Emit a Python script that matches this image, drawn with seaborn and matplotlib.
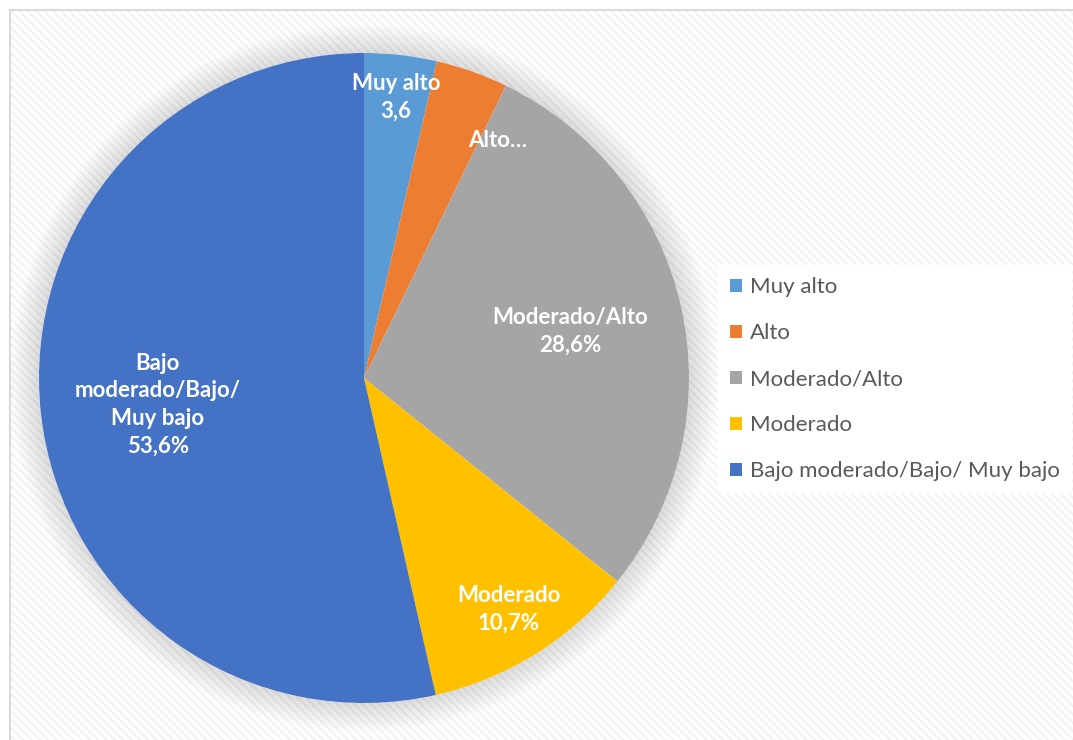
import matplotlib
matplotlib.use("Agg")
import numpy as np
import matplotlib.pyplot as plt
import seaborn as sns
from matplotlib.patches import Patch, Rectangle, Circle

# data
categories = ["Muy alto", "Alto", "Moderado/Alto", "Moderado",
              "Bajo moderado/Bajo/ Muy bajo"]
values = [3.6, 3.6, 28.6, 10.7, 53.6]
slice_labels = ["Muy alto\n3,6", "Alto…", "Moderado/Alto\n28,6%",
                "Moderado\n10,7%", "Bajo\nmoderado/Bajo/\nMuy bajo\n53,6%"]
colors = ["#5B9BD5", "#ED7D31", "#A5A5A5", "#FFC000", "#4472C4"]

# label placement (radius fraction, angle shift in degrees)
label_r = [0.87, 0.84, 0.65, 0.84, 0.64]
label_shift = [0, -10, 0, 0, 1]

sns.set_theme(style="white")
plt.rcParams["font.family"] = ["Lato", "DejaVu Sans"]
plt.rcParams["hatch.linewidth"] = 1.6

fig = plt.figure(figsize=(10.73, 7.40), dpi=100)

# hatched background + border
bg = Rectangle((10 / 1073, -0.01), 1.0, 1 - 10 / 740 + 0.01, transform=fig.transFigure,
               facecolor="white", edgecolor="#f3f3f3", hatch="\\\\\\\\",
               linewidth=0, zorder=-10)
fig.patches.append(bg)
border = Rectangle((10 / 1073, -0.01), 1.0, 1 - 10 / 740 + 0.01, transform=fig.transFigure,
                   facecolor="none", edgecolor="#d9d9d9", linewidth=1.5, zorder=-9)
fig.patches.append(border)

lim = 1.15
ax = fig.add_axes([(364 - 325 * lim) / 1073, (740 - 378 - 325 * lim) / 740,
                   650 * lim / 1073, 650 * lim / 740])

# soft glow around the pie
for i in range(12):
    ax.add_patch(Circle((0, 0), 1.0 + i * 0.008, facecolor="#000000",
                        alpha=0.012, edgecolor="none", zorder=0))
ax.add_patch(Circle((0, 0), 1.0, facecolor="white", edgecolor="none", zorder=0.5))

wedges, _ = ax.pie(values, colors=colors, startangle=90, counterclock=False,
                   radius=1.0, wedgeprops=dict(linewidth=0))
for w in wedges:
    w.set_zorder(1)
ax.set_xlim(-lim, lim)
ax.set_ylim(-lim, lim)
ax.set_axis_off()

for w, lab, r, sh in zip(wedges, slice_labels, label_r, label_shift):
    ang = np.deg2rad((w.theta1 + w.theta2) / 2 + sh)
    ax.text(r * np.cos(ang), r * np.sin(ang), lab, ha="center", va="center",
            color="white", fontsize=16, fontweight="bold", linespacing=1.4,
            zorder=3)

handles = [Patch(facecolor=c, edgecolor="none") for c in colors]
leg = fig.legend(handles, categories, loc="upper left",
                 bbox_to_anchor=(718 / 1073, 1 - 265 / 740),
                 frameon=True, facecolor="white", edgecolor="none", framealpha=1,
                 fontsize=16, labelcolor="#595959", handlelength=0.55,
                 handleheight=0.55, handletextpad=0.35, labelspacing=1.17,
                 borderpad=0.55, borderaxespad=0)

fig.savefig("out.png", dpi=100)
